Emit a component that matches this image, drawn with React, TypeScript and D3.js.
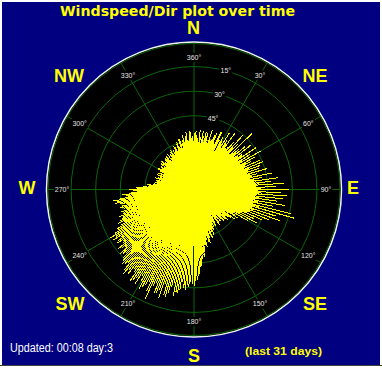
import React from "react";
import * as d3 from "d3";

const W = 382;
const H = 368;

const TITLE = "Windspeed/Dir plot over time";
const UPDATED = "Updated: 00:08 day:3";
const PERIOD = "(last 31 days)";

const compassNames = ["N", "NE", "E", "SE", "S", "SW", "W", "NW"];

const angleTicks = [0, 30, 60, 90, 120, 150, 180, 210, 240, 270, 300, 330];
const angleTickLabels = ["360°", "30°", "60°", "90°", "120°", "150°", "180°", "210°", "240°", "270°", "300°", "330°"];

const ringValues = [5, 10, 15, 20, 25];
const ringLabels = ["75°", "60°", "45°", "30°", "15°"];
const ringLabelBearing = 15;

// [direction in degrees, wind speed] – first half of the period
const windObsA: [number, number][] = [
  [0, 11.5], [0, 8], [2, 9], [2, 12], [4, 8.5], [4, 10.5], [6, 12.2], [6, 7], [8, 9.5],
  [10, 11], [10, 8], [12, 10], [12, 12], [14, 8.5], [14, 11.8], [16, 9.8], [18, 7.5], [18, 10.6],
  [20, 9], [20, 11], [22, 8.2], [22, 12.4], [24, 10.2], [26, 9.6], [26, 13], [28, 8.8], [30, 11.4], [30, 9.2],
  [32, 10], [32, 13.5], [34, 9.4], [34, 12], [36, 11.2], [36, 14.3], [38, 10.6], [40, 12.5], [40, 9.8],
  [42, 11], [42, 15], [44, 10.4], [44, 13], [46, 16.4], [46, 11.6], [48, 12.2], [48, 10], [50, 13.6], [50, 11],
  [52, 10.8], [52, 14.8], [54, 12], [54, 11.5], [56, 15.2], [56, 10.6], [58, 11.8], [58, 13.4], [60, 15.6], [60, 12],
  [62, 11.2], [62, 14], [64, 13], [64, 10.8], [66, 14.6], [66, 12.4], [68, 15.1], [68, 11.6], [70, 12.8], [70, 14.2],
  [72, 11.4], [72, 13.8], [74, 15.4], [74, 12.2], [76, 13.2], [76, 11], [78, 16.2], [78, 12.6], [80, 14], [80, 13],
  [82, 17.2], [82, 13.4], [84, 14.8], [84, 15.8], [86, 18.4], [86, 13], [88, 16.6], [88, 14.2],
  [90, 19.4], [90, 15], [90, 13], [92, 17.8], [92, 14.6], [94, 19], [94, 13.8], [94, 16], [96, 15.4], [96, 18.2],
  [98, 17], [98, 14], [100, 18.8], [100, 15.2], [102, 16.4], [102, 13.6], [104, 20.4], [104, 14.8],
  [106, 21.2], [106, 16.8], [108, 17.6], [108, 13.2], [110, 15.8], [110, 18.6], [112, 14.2], [112, 16.4],
  [114, 15.2], [114, 12.4], [116, 13.6], [116, 11], [118, 12.2], [118, 14.4], [120, 10.8], [120, 12.6],
  [122, 9.8], [122, 7.4], [124, 8.6], [126, 10.2], [126, 6.8], [128, 7.6], [128, 9], [130, 8.2],
  [132, 6.4], [132, 9.4], [134, 7.8], [136, 6.8], [136, 8.8], [138, 7.2], [140, 8.4], [140, 6], [142, 6.6],
  [144, 7.4], [144, 9], [146, 6.2], [148, 8], [148, 7], [150, 7.6], [152, 6.8], [152, 8.6], [154, 9.2],
  [156, 7.4], [156, 10], [158, 8.6], [160, 9.8], [160, 7.8], [162, 10.4], [164, 9], [164, 11],
  [166, 10.6], [166, 8.4], [168, 11.6], [170, 10.2], [170, 12.8],
  [172, 13.4], [172, 11], [174, 14.2], [174, 15.6], [176, 17.2], [176, 13], [178, 18.4], [178, 14],
  [180, 17.6], [180, 19.6], [182, 18.8], [182, 15.2], [184, 19.4], [184, 16], [186, 20.2], [186, 16.6],
  [188, 20.6], [188, 17.4], [190, 18.8], [190, 21.2], [192, 19.4], [192, 17.8], [194, 21.6], [194, 18.2],
  [196, 19.2], [196, 22.4], [198, 23.2], [198, 19], [200, 19.6], [200, 22.4], [202, 20.4], [202, 18.8],
  [204, 24.4], [204, 20], [206, 21], [206, 19.4], [208, 20.6], [208, 22.4], [210, 19.8], [210, 21.6],
  [212, 22.6], [212, 20.2], [214, 22.2], [214, 19], [216, 20.8], [216, 18.6], [218, 21.8], [218, 19.6],
  [220, 22.4], [220, 18.4], [222, 20], [222, 17.8], [224, 19.6], [224, 21], [226, 18.8], [226, 20.2],
  [228, 17.6], [228, 19.4], [230, 18.2], [230, 16.4], [232, 19.6], [232, 17], [234, 17.8], [234, 16],
  [236, 18.6], [236, 15.4], [238, 19.4], [238, 17.2], [240, 19.8], [240, 16.2], [242, 17.4], [242, 15],
  [244, 16.6], [244, 14.4], [246, 17], [246, 15.6], [248, 15.8], [248, 14], [250, 16.2], [250, 13.6],
  [252, 15], [252, 12.8], [254, 14.4], [254, 13], [256, 15.6], [256, 12.2], [258, 14.2], [258, 11.6],
  [260, 16.4], [260, 12.8], [262, 16.6], [262, 11], [264, 13.4], [264, 10.4], [266, 12], [266, 14.6],
  [268, 11.6], [268, 9.8], [270, 10.8], [270, 13.2], [272, 9.6], [272, 11.8], [274, 9.4], [274, 8],
  [276, 9.6], [276, 7.6], [278, 8.2], [278, 6.8], [280, 7.8], [280, 6.6], [282, 7.2], [284, 6.8], [284, 8],
  [286, 7.4], [288, 6.4], [288, 7.8], [290, 7.2], [292, 6.6], [292, 8.2], [294, 7], [296, 7.6], [296, 6.2],
  [298, 6.8], [300, 7.4], [300, 8.4], [302, 7.8], [304, 6.6], [304, 8], [306, 7.2], [308, 8.6], [308, 6.8],
  [310, 8.2], [312, 7.4], [312, 6.6], [314, 7.8], [316, 6.8], [316, 8.4], [318, 7.6], [320, 8.8], [320, 7],
  [322, 7.4], [324, 8], [324, 6.4], [326, 8.6], [328, 7.2], [328, 9], [330, 8.4], [332, 7.8], [332, 9.2],
  [334, 8.8], [336, 9.6], [336, 7.4], [338, 8.6], [340, 9.4], [340, 10.2], [342, 8.8], [344, 10.6], [344, 9],
  [346, 9.8], [348, 11.4], [348, 8.6], [350, 10.4], [352, 11.8], [352, 9.2], [354, 10], [356, 12], [356, 9.4],
  [358, 10.8],
];

// [direction in degrees, wind speed] – second half of the period
const windObsB: [number, number][] = [
  [1, 10.2], [3, 11], [3, 8.8], [5, 9.4], [7, 10.8], [7, 8], [9, 12], [9, 9], [11, 9.6], [13, 11.2], [13, 8.4],
  [15, 10], [17, 12.6], [17, 9], [19, 10.4], [21, 11.8], [21, 9.6], [23, 10.6], [25, 12.8], [25, 9.2], [27, 11.4],
  [29, 10], [29, 12.2], [31, 10.8], [31, 9.4], [33, 10.2], [33, 9], [35, 11.4], [35, 9.8], [37, 10.6], [37, 9.2],
  [39, 9.6], [39, 11.2], [41, 10.4], [41, 9.4], [43, 11.6], [43, 9.8], [45, 10.2], [45, 9.2], [47, 10.8], [47, 9.6],
  [49, 9.8], [49, 11.4], [51, 10.6], [51, 9.4], [53, 11.2], [53, 10], [55, 10.4], [55, 11.8], [57, 9.8], [57, 10.8],
  [59, 11.4], [59, 10.2], [61, 10.8], [61, 9.6], [63, 11.8], [63, 10.4], [65, 10.2], [65, 11.4], [67, 11], [67, 9.8],
  [69, 12], [69, 10.6], [71, 10.4], [71, 11.6], [73, 11.2], [73, 10], [75, 11.8], [75, 10.4], [77, 10.8], [77, 12.2],
  [79, 11.6], [79, 10.6], [81, 12.4], [81, 11.2], [83, 12.8], [83, 11.6], [85, 12], [85, 13.2], [87, 12.6], [87, 11.4],
  [89, 13.6], [89, 12.2], [91, 13], [91, 11.8], [93, 13.8], [93, 12.4], [95, 12.8], [95, 11.6], [97, 12.2], [97, 13.4],
  [99, 12.6], [99, 11.4], [101, 13.2], [101, 12], [103, 12.4], [103, 11.2], [105, 13.6], [105, 11.8], [107, 12.4], [107, 11],
  [109, 11.8], [109, 12.8], [111, 11.2], [111, 12.2], [113, 11.6], [113, 10.6], [115, 10.8], [115, 9.8], [117, 10.4],
  [119, 9.6], [119, 8.8], [121, 9.4], [123, 10.6], [123, 8], [125, 7.8], [127, 9.4], [129, 8.8], [131, 7.2], [133, 8.6],
  [135, 7], [137, 8], [139, 6.4], [141, 7.6], [143, 8.2], [145, 6.8], [147, 7.4], [149, 8.8], [151, 7], [153, 8],
  [155, 8.8], [157, 9.4], [159, 10.6], [161, 8.6], [163, 11.4], [165, 9.8], [167, 12], [169, 11.4],
  [171, 12.6], [171, 13.8], [173, 14.2], [173, 12.4], [175, 15.8], [175, 13.6], [177, 17.6], [177, 14.2], [179, 16.4], [179, 18.6],
  [181, 19.2], [181, 15.8], [183, 17.4], [183, 19.8], [185, 18.2], [185, 20.6], [187, 19], [187, 16.8], [189, 21.4], [189, 17.6],
  [191, 19.8], [191, 22], [193, 18.6], [193, 20.4], [195, 22.6], [195, 19.4], [197, 20.2], [197, 18.4], [199, 21.6], [199, 19],
  [201, 22.6], [201, 19.8], [203, 21.4], [203, 19.2], [205, 20.2], [205, 22.8], [207, 19.4], [207, 21.8], [209, 23.2], [209, 20.4],
  [211, 20.6], [211, 18.8], [213, 21.4], [213, 19.6], [215, 19.4], [215, 22.8], [217, 20.2], [217, 18.4], [219, 21], [219, 19.2],
  [221, 19], [221, 21.6], [223, 18.6], [223, 20.6], [225, 20.4], [225, 18.2], [227, 19], [227, 17.4], [229, 18.4], [229, 20],
  [231, 17.2], [231, 18.8], [233, 18.2], [233, 16.6], [235, 16.8], [235, 19], [237, 17.8], [237, 16.2], [239, 18.6], [239, 16.6],
  [241, 18.4], [241, 15.6], [243, 16.2], [243, 17.6], [245, 15.8], [245, 14.2], [247, 16.4], [247, 14.8], [249, 14.6], [249, 15.4],
  [251, 15.2], [251, 13.4], [253, 13.8], [253, 15.6], [255, 14.8], [255, 12.4], [257, 13.2], [257, 15], [259, 15.4], [259, 12],
  [261, 14], [261, 15.8], [263, 15.2], [263, 12.4], [265, 13.8], [265, 11.2], [267, 12.8], [267, 10.6], [269, 10.2], [269, 12.4],
  [271, 11.6], [271, 9.2], [273, 10.4], [273, 8.6], [275, 9.2], [277, 8.4], [279, 7.2], [281, 8], [283, 7.6], [285, 6.6],
  [287, 8.2], [289, 7.4], [291, 6.8], [293, 7.6], [295, 8], [297, 7], [299, 7.8], [301, 8.6], [303, 7.2], [305, 8.2],
  [307, 7.6], [309, 7.4], [311, 8.8], [313, 8], [315, 7.2], [317, 8.6], [319, 8.2], [321, 7.8], [323, 9], [325, 7.6],
  [327, 8.2], [329, 9.4], [331, 7.6], [333, 8.4], [335, 9.8], [337, 8.4], [339, 10], [341, 9.2], [343, 10.8], [345, 8.8],
  [347, 10.4], [349, 9.6], [351, 11], [353, 10.2], [355, 11.6], [357, 10.4], [359, 9.8],
];

const windObs = windObsA.concat(windObsB);

const CX = 194;
const CY = 189.5;
const R = 147.5;
const SPEED_MAX = 30;

const rScale = d3.scaleLinear().domain([0, SPEED_MAX]).range([0, R]);
const rad = (deg: number) => (deg * Math.PI) / 180;
const px = (deg: number, r: number) => CX + r * Math.sin(rad(deg));
const py = (deg: number, r: number) => CY - r * Math.cos(rad(deg));

const compassPos: Record<string, [number, number]> = {
  N: [193.5, 34],
  NE: [315, 82],
  E: [353, 194],
  SE: [315, 310],
  S: [194, 362],
  SW: [70, 310],
  W: [27, 194],
  NW: [69, 82],
};

const GRID = "#0b640b";
const SMALL_FONT = "'Liberation Sans', Arial, sans-serif";

function SmallLabel({ x, y, text }: { x: number; y: number; text: string }) {
  const w = text.length * 3.6 + 2;
  return (
    <g>
      <rect x={x - w / 2} y={y - 4.5} width={w} height={9} fill="#000" />
      <text x={x} y={y + 2.5} textAnchor="middle" fontSize={7} fontFamily={SMALL_FONT} fill="#e4e4e4">
        {text}
      </text>
    </g>
  );
}

export default function App() {
  const angleLabelR = 132;
  return (
    <svg width={W} height={H} style={{ position: "absolute", left: 0, top: 0, display: "block" }}>
      <rect x={0} y={0} width={W} height={H} fill="#ffffff" />
      <rect x={2} y={2} width={378} height={363} fill="#000080" />
      <line x1={0} x2={W} y1={365.5} y2={365.5} stroke="#404040" />

      <text x={177.5} y={15.5} textAnchor="middle" fontSize={14} fontWeight="bold"
        fontFamily="'DejaVu Sans', Verdana, sans-serif" fill="#ffff00" textLength={235} lengthAdjust="spacingAndGlyphs">
        {TITLE}
      </text>

      <circle cx={CX} cy={CY} r={R} fill="#000" stroke="#f0f4f0" strokeWidth={1.5} />
      <circle cx={CX} cy={CY} r={R - 1.5} fill="none" stroke={GRID} strokeWidth={1} />

      {ringValues.map((v) => (
        <circle key={v} cx={CX} cy={CY} r={rScale(v)} fill="none" stroke={GRID} strokeWidth={1} />
      ))}
      {angleTicks.map((a) => (
        <line key={a} x1={CX} y1={CY} x2={px(a, R - 1)} y2={py(a, R - 1)} stroke={GRID} strokeWidth={1} />
      ))}

      {angleTicks.map((a, i) => (
        <SmallLabel key={a} x={px(a, angleLabelR)} y={py(a, angleLabelR)} text={angleTickLabels[i]} />
      ))}
      {ringValues.map((v, i) => (
        <SmallLabel key={v} x={px(ringLabelBearing, rScale(v))} y={py(ringLabelBearing, rScale(v))} text={ringLabels[i]} />
      ))}

      <g stroke="#ffff00" strokeWidth={1} shapeRendering="crispEdges">
        {windObs.map(([dir, spd], i) => (
          <line key={i} x1={CX} y1={CY} x2={px(dir, rScale(spd))} y2={py(dir, rScale(spd))} />
        ))}
      </g>

      {compassNames.map((n) => {
        const [x, y] = compassPos[n];
        return (
          <text key={n} x={x} y={y} textAnchor="middle" fontSize={18} fontWeight="bold"
            fontFamily="'Liberation Sans', Arial, sans-serif" fill="#ffff00">
            {n}
          </text>
        );
      })}

      <text x={10} y={352} fontSize={12} fontFamily="'Liberation Sans', Arial, sans-serif" fill="#ffffff"
        textLength={103} lengthAdjust="spacingAndGlyphs">
        {UPDATED}
      </text>
      <text x={245} y={355} fontSize={11} fontWeight="bold" fontFamily="'Liberation Sans', Arial, sans-serif"
        fill="#ffff00" textLength={77} lengthAdjust="spacingAndGlyphs">
        {PERIOD}
      </text>
    </svg>
  );
}
